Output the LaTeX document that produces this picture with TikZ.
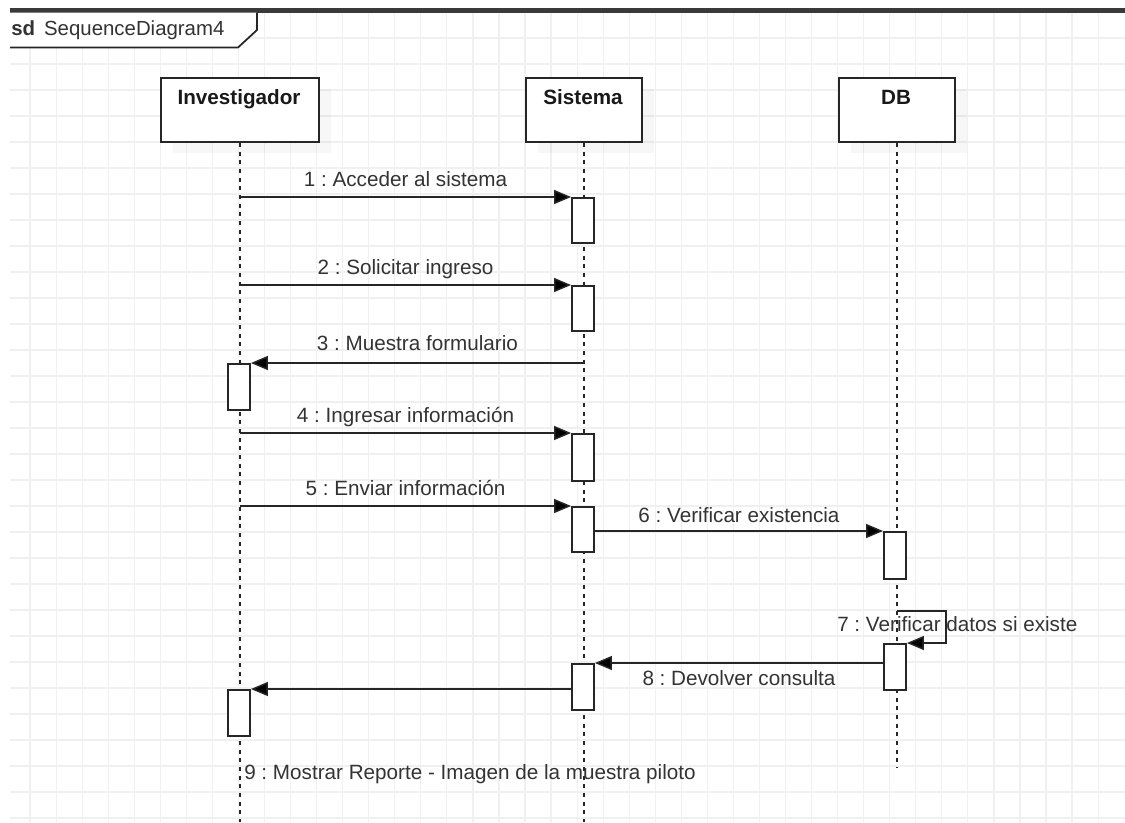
\documentclass[tikz,border=0pt]{standalone}
\usepackage{fontspec}
\setmainfont{Liberation Sans}
\usetikzlibrary{arrows.meta,shadows}
\definecolor{ink}{HTML}{262626}
\definecolor{txt}{HTML}{333333}
\definecolor{gridc}{HTML}{F0F0F0}
\definecolor{barc}{HTML}{3A3A3A}
\frenchspacing
\begin{document}
\begin{tikzpicture}[x=0.75pt,y=-0.75pt,
  every node/.style={font=\fontsize{15.5}{18}\selectfont, text=txt},
  actor/.style={draw=ink, line width=1.5pt, fill=white, anchor=north west,
    minimum height=48pt, inner sep=0pt,
    drop shadow={shadow xshift=9pt, shadow yshift=-8pt, fill=black, opacity=0.03}},
  actorname/.style={font=\bfseries\fontsize{15.5}{18}\selectfont, text=black!90, anchor=base},
  activation/.style={draw=ink, line width=1.4pt, fill=white, anchor=north,
    minimum width=16.5pt, inner sep=0pt},
  lifeline/.style={draw=ink, line width=1.4pt, dash pattern=on 3pt off 3.5pt},
  msg/.style={draw=ink, line width=1.1pt, -{Triangle[length=12.75pt, width=10.5pt, fill=black]}},
  msglabel/.style={anchor=base, inner sep=0pt},
]
\useasboundingbox (0,0) rectangle (1125,822);
\fill[white] (0,0) rectangle (1125,822);

% background grid
\foreach \i in {1,...,42}
  \draw[gridc, line width=0.9pt] ({4+26.05*\i},12.5) -- ({4+26.05*\i},822);
\foreach \j in {1,...,31}
  \draw[gridc, line width=0.9pt] (10,{12+26*\j}) -- (1125,{12+26*\j});

% frame top and name tab
\fill[barc] (10,8) rectangle (1125,12.5);
\fill[white] (10,12.5) -- (257,12.5) -- (257,30) -- (238,47.5) -- (10,47.5) -- cycle;
\draw[ink, line width=1.3pt] (10,47.5) -- (238,47.5) -- (257,30) -- (257,12.5);
\node[anchor=base west, inner sep=0pt] (sdname) at (11,35)
  {\fontsize{15.3}{18}\selectfont\textbf{sd}\, SequenceDiagram4};

% participants
\node[actor, minimum width=118.5pt] (inv) at (160,77) {};
\node[actor, minimum width=87pt] (sis) at (525,77) {};
\node[actor, minimum width=87pt] (db) at (838,77) {};
\node[actorname] (invname) at (239,104) {Investigador};
\node[actorname] (sisname) at (583,104) {Sistema};
\node[actorname] (dbname) at (896,104) {DB};

% lifelines
\draw[lifeline] (inv.south) -- (inv.south |- 0,822);
\draw[lifeline] (sis.south) -- (sis.south |- 0,822);
\draw[lifeline] (db.south) -- (db.south |- 0,768);

% activations
\node[activation, minimum height=33.75pt] (s1) at (583,197) {};
\node[activation, minimum height=33.75pt] (s2) at (583,285) {};
\node[activation, minimum height=34.5pt] (i1) at (239,363) {};
\node[activation, minimum height=35.25pt] (s3) at (583,433) {};
\node[activation, minimum height=33.75pt] (s4) at (583,506) {};
\node[activation, minimum height=35.25pt] (d1) at (895,531) {};
\node[activation, minimum height=34.5pt] (d2) at (895,643) {};
\node[activation, minimum height=34.5pt] (s5) at (583,663) {};
\node[activation, minimum height=34.5pt] (i2) at (239,689) {};

% message start points on lifelines
\coordinate (m1) at (inv.south |- s1.north);
\coordinate (m2) at (inv.south |- s2.north);
\coordinate (m3) at (sis.south |- i1.north);
\coordinate (m4) at (inv.south |- s3.north);
\coordinate (m5) at (inv.south |- s4.north);
\coordinate (m7) at (db.south |- 0,611);

% messages
\draw[msg] (m1) -- node[msglabel, yshift=8.25pt] (l1) {1 : Acceder al sistema} (s1.north west);
\draw[msg] (m2) -- node[msglabel, yshift=8.25pt] (l2) {2 : Solicitar ingreso} (s2.north west);
\draw[msg] (m3) -- node[msglabel, yshift=9.5pt] (l3) {3 : Muestra formulario} (i1.north east);
\draw[msg] (m4) -- node[msglabel, yshift=8.25pt] (l4) {4 : Ingresar información} (s3.north west);
\draw[msg] (m5) -- node[msglabel, yshift=8.25pt] (l5) {5 : Enviar información} (s4.north west);
\draw[msg] (s4.east |- d1.north) -- node[msglabel, yshift=6.75pt] (l6) {6 : Verificar existencia} (d1.north west);
\draw[msg] (m7) -- ++(49,0) |- (d2.north east);
\node[msglabel, anchor=base west] (l7) at (837,631) {7 : Verificar datos si existe};
\draw[msg] (d2.west |- s5.north) -- node[msglabel, yshift=-16.5pt] (l8) {8 : Devolver consulta} (s5.north east);
\draw[msg] (s5.west |- i2.north) -- (i2.north east);
\node[msglabel, anchor=base west] (l9) at (244,779) {9 : Mostrar Reporte - Imagen de la muestra piloto};
\end{tikzpicture}
\end{document}
